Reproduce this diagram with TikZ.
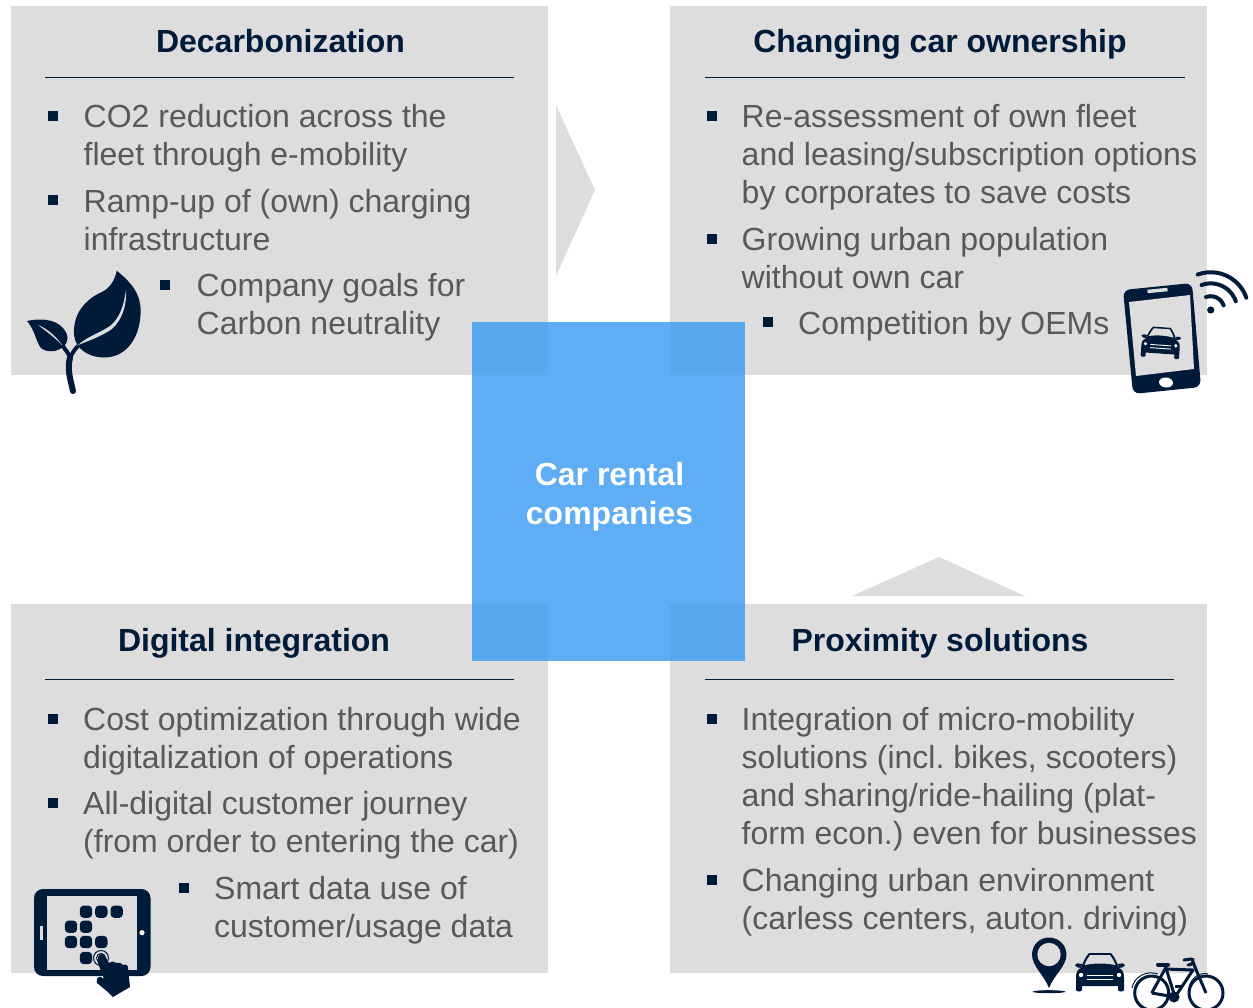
\documentclass[tikz,border=0pt]{standalone}
\usepackage{fontspec}
\setmainfont{Liberation Sans}
\frenchspacing
\definecolor{navy}{HTML}{001A3A}
\definecolor{panelgrey}{HTML}{DDDDDD}
\definecolor{bodygrey}{HTML}{595959}
\definecolor{centerblue}{HTML}{439FF2}
\tikzset{
  panel/.style={fill=panelgrey,draw=none},
  headline/.style={anchor=base,inner sep=0,font=\fontsize{32}{38}\selectfont\bfseries,text=navy},
  body/.style={anchor=base west,inner sep=0,align=left,font=\fontsize{32}{38}\selectfont,text=bodygrey},
  bul/.style={fill=navy,inner sep=0,minimum size=10pt},
  rulel/.style={draw=navy,line width=1pt},
  ink/.style={fill=navy,draw=none},
  carpic/.pic={
    \fill[navy] (6,16) .. controls (8,10) and (11,4) .. (14,1) -- (36,1) .. controls (39,4) and (42,10) .. (44,16)
      .. controls (47,17) and (49,20) .. (49,25) -- (49,38) .. controls (49,40) and (43,40) .. (43,38) -- (43,34) -- (7,34) -- (7,38) .. controls (7,40) and (1,40) .. (1,38) -- (1,25) .. controls (1,20) and (3,17) .. (6,16) -- cycle;
    \fill[navy] (0,13) .. controls (1,11) and (5,11) .. (7,12) -- (6,16) .. controls (3,16) and (1,15) .. (0,13) -- cycle;
    \fill[navy] (50,13) .. controls (49,11) and (45,11) .. (43,12) -- (44,16) .. controls (47,16) and (49,15) .. (50,13) -- cycle;
    \fill[panelgrey] (15,3) -- (35,3) .. controls (37,6) and (39,9) .. (40.5,13) .. controls (30,11) and (20,11) .. (9.5,13) .. controls (11,9) and (13,6) .. (15,3) -- cycle;
    \fill[white] (6,23) circle (2.2) (44,23) circle (2.2);
    \draw[white,line width=.9pt] (12,23.5) -- (38,23.5) (12,27.5) -- (38,27.5);
  }
}
\begin{document}
\begin{tikzpicture}[x=1pt,y=-1pt]
\useasboundingbox (0,0) rectangle (1253,1007);
% panels
\fill[panel] (11,6) rectangle (548,375);
\fill[panel] (670,6) rectangle (1207,375);
\fill[panel] (11,604) rectangle (548,973);
\fill[panel] (670,604) rectangle (1207,973);
% chevrons
\fill[panel] (556,105) -- (595,190) -- (556,276) -- cycle;
\fill[panel] (852,596) -- (939,557) -- (1025,596) -- cycle;
% rules
\draw[rulel] (45,77.5) -- (514,77.5);
\draw[rulel] (705,77.5) -- (1185,77.5);
\draw[rulel] (45,679.5) -- (514,679.5);
\draw[rulel] (705,679.5) -- (1174,679.5);
% titles
\node[headline] (t1) at (280.5,52) {Decarbonization};
\node[headline] (t2) at (940,52) {Changing car ownership};
\node[headline] (t3) at (254,651) {Digital integration};
\node[headline] (t4) at (940,651) {Proximity solutions};
% top-left
\node[bul] (b11) at (53,116) {};
\node[body] (x11) at (83.5,165) {CO2 reduction across the\\fleet through e-mobility};
\node[bul] (b12) at (53,200) {};
\node[body] (x12) at (83.5,250) {Ramp-up of (own) charging\\infrastructure};
\node[bul] (b13) at (165,285) {};
\node[body] (x13) at (196.5,334) {Company goals for\\Carbon neutrality};
% top-right
\node[bul] (b21) at (712,116) {};
\node[body] (x21) at (741.5,203) {Re-assessment of own fleet\\and leasing/subscription options\\by corporates to save costs};
\node[bul] (b22) at (712,239) {};
\node[body] (x22) at (741.5,288) {Growing urban population\\without own car};
\node[bul] (b23) at (768,322) {};
\node[body] (x23) at (798,334) {Competition by OEMs};
% bottom-left
\node[bul] (b31) at (53,719) {};
\node[body] (x31) at (83,768) {Cost optimization through wide\\digitalization of operations};
\node[bul] (b32) at (53,803) {};
\node[body] (x32) at (83,852.5) {All-digital customer journey\\(from order to entering the car)};
\node[bul] (b33) at (184,888) {};
\node[body] (x33) at (214,937) {Smart data use of\\customer/usage data};
% bottom-right
\node[bul] (b41) at (712,719) {};
\node[body] (x41) at (741.5,844.5) {Integration of micro-mobility\\solutions (incl. bikes, scooters)\\and sharing/ride-hailing (plat-\\form econ.) even for businesses};
\node[bul] (b42) at (712,880) {};
\node[body] (x42) at (741.5,929) {Changing urban environment\\(carless centers, auton. driving)};
% centre
\node[fill=centerblue,fill opacity=.85,inner sep=0,minimum width=273pt,minimum height=339pt] (c) at (608.5,491.5) {};
\node[text=white,inner sep=0,align=center,font=\fontsize{32}{39}\selectfont\bfseries] (cl) at (609.5,496.5) {Car rental\\companies};
% leaf
\fill[ink] (116.7,270.7) .. controls (132,283) and (142,295) .. (140.5,315) .. controls (139,340) and (125,358) .. (103,357.5) .. controls (92,357) and (84,353) .. (78,346) .. controls (74,340) and (73,332) .. (74.5,325) .. controls (77,308) and (90,297) .. (102,292) .. controls (110,288) and (115,280) .. (116.7,270.7) -- cycle;
\fill[panelgrey] (126,290) .. controls (124,305) and (120,318) .. (110,326) .. controls (100,333) and (88,336) .. (78,345) .. controls (88,341) and (100,337) .. (112,329) .. controls (122,320) and (127,305) .. (126,290) -- cycle;
\fill[ink] (27,321) .. controls (40,318) and (55,319) .. (63,328) .. controls (69,335) and (69,342) .. (63,347) .. controls (57,352) and (47,353) .. (41,348) .. controls (36,342) and (35,330) .. (27,321) -- cycle;
\fill[panelgrey] (38,325) .. controls (46,328) and (55,335) .. (62,345) .. controls (54,337) and (46,331) .. (38,325) -- cycle;
\draw[navy,line width=6pt,line cap=round] (73,391) .. controls (70,378) and (67,368) .. (70,358);
\draw[navy,line width=4pt] (70,358) .. controls (69,353) and (65,350) .. (63,346);
\draw[navy,line width=4pt] (70,358) .. controls (72,354) and (74,350) .. (78,346);
% phone
\fill[ink,rounded corners=7pt] (1123,290) -- (1192,283) -- (1201,387) -- (1133,394) -- cycle;
\fill[panelgrey] (1129,302) -- (1190,295) -- (1194,369) -- (1136,376) -- cycle;
\draw[panelgrey,line width=3.5pt] (1147.5,291.5) -- (1167.5,289.5);
\fill[white,rotate around={-5:(1166,382.5)}] (1166,382.5) ellipse (7 and 5);
\path pic[scale=.8,rotate=-4] at (1142,325) {carpic};
\fill[ink] (1210.7,310) circle (3.6);
\draw[navy,line width=4pt,line cap=round] (1206,297) arc[start angle=250,end angle=341,radius=13.7];
\draw[navy,line width=4pt,line cap=round] (1201.6,285) arc[start angle=250,end angle=341,radius=26.6];
\draw[navy,line width=4pt,line cap=round] (1197.7,274.5) arc[start angle=250,end angle=341,radius=37.8];
% tablet
\fill[ink,rounded corners=9pt] (34,889) rectangle (150.5,976);
\fill[panelgrey] (46.5,896) rectangle (136.5,970);
\fill[panelgrey] (39.5,926) rectangle (42.5,939.5);
\fill[white] (142,932.7) circle (2.6);
\foreach \px/\py in {86/911.7,101.3/911.7,116.7/911.7,71/926.7,86/926.7,71/942,86/942,101.3/942,86/958}
  \fill[ink,rounded corners=4pt] (\px-6.2,\py-6.2) rectangle (\px+6.2,\py+6.2);
\draw[navy,line width=1pt] (101,958) circle (7.5) (101,958) circle (4.5);
\fill[ink] (98,957) .. controls (100,953) and (104,953) .. (105,956) -- (109,963) .. controls (112,961) and (115,961) .. (116,963) .. controls (119,962) and (122,963) .. (123,965) .. controls (126,964) and (128,965) .. (128,968) -- (130,987) -- (113,997) -- (108,992) -- (97,983) .. controls (96,979) and (98,976) .. (101,977) -- (104,979) -- (98,963) -- cycle;
% pin
\fill[ink,even odd rule] (1049,988) .. controls (1044,975) and (1032,966) .. (1032,954.5) .. controls (1032,944.5) and (1040,937.5) .. (1049,937.5) .. controls (1058,937.5) and (1066.5,944.5) .. (1066.5,954.5) .. controls (1066.5,966) and (1054,975) .. (1049,988) -- cycle;
\fill[panelgrey] (1049,954.5) circle (11.7);
\fill[ink] (1049,991.7) ellipse (16.5 and 1.5);
% road car
\path pic at (1075,952) {carpic};
% bicycle
\begin{scope}[navy,line width=2pt]
\draw[line width=3pt] (1151.7,993) circle (17) (1206,993) circle (17);
\draw[line width=1pt] (1132,988) .. controls (1134,977) and (1146,970) .. (1158,974);
\draw[line width=1pt] (1189,988) .. controls (1191,977) and (1200,972) .. (1208,974);
\draw[line width=3pt,line join=round] (1151.7,993) -- (1175,997) -- (1193,970) -- (1165,969) -- (1151.7,993);
\draw[line width=3pt] (1165,965) -- (1175,997);
\draw[line width=3pt] (1193,962) -- (1197,972) -- (1206,993);
\draw[line width=4pt,line cap=round] (1158,964.5) -- (1168,964.5);
\draw[line width=3pt,line cap=round] (1184,960) -- (1191,959) .. controls (1195,958) and (1193,966) .. (1188,965);
\fill (1174,997) circle (5.5);
\draw[line width=3pt] (1175,986) -- (1182,986);
\end{scope}
\end{tikzpicture}
\end{document}
